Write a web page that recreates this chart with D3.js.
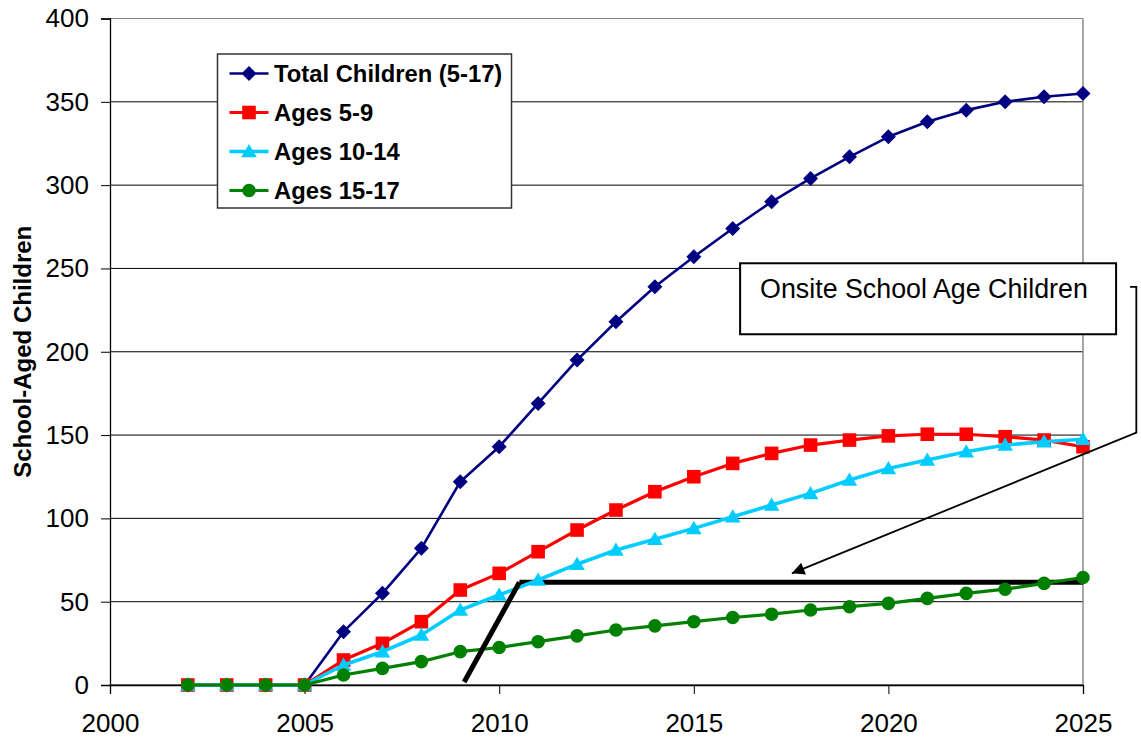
<!DOCTYPE html>
<html>
<head>
<meta charset="utf-8">
<script src="https://cdn.jsdelivr.net/npm/d3@7"></script>
<style>
  html, body { margin: 0; padding: 0; background: #fff; }
  svg { display: block; font-family: "Liberation Sans", Arial, sans-serif; }
</style>
</head>
<body>
<svg id="chart" width="1141" height="742"></svg>
<script>
// Projected school-aged children, by year
const years = [2002, 2003, 2004, 2005, 2006, 2007, 2008, 2009, 2010, 2011, 2012, 2013,
               2014, 2015, 2016, 2017, 2018, 2019, 2020, 2021, 2022, 2023, 2024, 2025];
const totalChildren = [0, 0, 0, 0, 32, 55, 82, 122, 143, 169, 195, 218,
                       239, 257, 274, 290, 304, 317, 329, 338, 345, 350, 353, 355];
const ages5to9 = [0, 0, 0, 0, 15, 25, 38, 57, 67, 80, 93, 105,
                  116, 125, 133, 139, 144, 147, 149.5, 150.5, 150.5, 149, 147, 143];
const ages10to14 = [0, 0, 0, 0, 12, 20, 30, 45, 54, 63, 72.5, 81,
                    87.5, 94, 101, 108, 115, 123, 130, 135, 140, 144, 146, 147.5];
const ages15to17 = [0, 0, 0, 0, 6, 10, 14, 20, 22.5, 26, 29.5, 33,
                    35.5, 38, 40.5, 42.5, 45, 47, 49, 52, 55, 57.5, 61, 64.5];

const seriesNames = ["Total Children (5-17)", "Ages 5-9", "Ages 10-14", "Ages 15-17"];
const seriesValues = [totalChildren, ages5to9, ages10to14, ages15to17];

const xTicks = [2000, 2005, 2010, 2015, 2020, 2025];
const yTicks = [0, 50, 100, 150, 200, 250, 300, 350, 400];

const axisTitle = "School-Aged Children";
const calloutText = "Onsite School Age Children";

// Callout shapes, in year / child-count units
const levelLine = [[2010.52, 61.7], [2025, 61.7]];
const riseLine = [[2009.1, 1.8], [2010.52, 61.7]];
const calloutBox = { x0: 2016.19, y0: 253.1, x1: 2025.85, y1: 210.5 };
const leaderLine = [[2026.21, 238.9], [2026.37, 238.9], [2026.37, 151.5], [2017.52, 67.0]];

// ---- styling per series ----
const styles = [
  { color: "#000080", width: 2.6, marker: "diamond" },
  { color: "#FF0000", width: 3.2, marker: "square" },
  { color: "#00CCFF", width: 3.6, marker: "triangle" },
  { color: "#008000", width: 3.2, marker: "circle" }
];

const svg = d3.select("#chart");
const plot = { left: 110, right: 1083, top: 18.5, bottom: 685 };

const x = d3.scaleLinear().domain([2000, 2025]).range([plot.left, plot.right]);
const y = d3.scaleLinear().domain([0, 400]).range([plot.bottom, plot.top]);

function markerPath(kind) {
  switch (kind) {
    case "diamond": return "M0,-7.5L7.5,0L0,7.5L-7.5,0Z";
    case "square": return "M-6.8,-6.8H6.8V6.8H-6.8Z";
    case "triangle": return "M0,-7.5L7.8,5.8L-7.8,5.8Z";
    default: return d3.symbol(d3.symbolCircle, Math.PI * 6.8 * 6.8)();
  }
}

// Gridlines
svg.append("g")
  .selectAll("line")
  .data(yTicks)
  .join("line")
  .attr("x1", plot.left).attr("x2", plot.right)
  .attr("y1", d => y(d)).attr("y2", d => y(d))
  .attr("stroke", d => d === 400 ? "#808080" : "#000")
  .attr("stroke-width", 1);

// Right border of plot area
svg.append("line")
  .attr("x1", plot.right).attr("x2", plot.right)
  .attr("y1", plot.top).attr("y2", plot.bottom)
  .attr("stroke", "#8a8a8a").attr("stroke-width", 1.5);

// Y axis
const yAxis = d3.axisLeft(y).tickValues(yTicks).tickSize(9).tickPadding(12);
const gy = svg.append("g").attr("transform", `translate(${plot.left},0)`).call(yAxis);
gy.select(".domain").attr("stroke", "#000").attr("stroke-width", 1.3);
gy.selectAll(".tick line").attr("stroke", "#000");
gy.selectAll(".tick text").attr("font-size", 26).attr("fill", "#000")
  .attr("font-family", "'Liberation Sans', Arial, sans-serif");

// X axis
const xAxis = d3.axisBottom(x).tickValues(xTicks).tickFormat(d3.format("d")).tickSize(9).tickPadding(20);
const gx = svg.append("g").attr("transform", `translate(0,${plot.bottom})`).call(xAxis);
gx.select(".domain").attr("stroke", "#000").attr("stroke-width", 1.3);
gx.selectAll(".tick line").attr("stroke", "#000");
gx.selectAll(".tick text").attr("font-size", 26).attr("fill", "#000")
  .attr("font-family", "'Liberation Sans', Arial, sans-serif");

// Axis title
svg.append("text")
  .attr("transform", `translate(22,${(plot.top + plot.bottom) / 2}) rotate(-90)`)
  .attr("text-anchor", "middle")
  .attr("dominant-baseline", "central")
  .attr("font-weight", "bold")
  .attr("font-size", 24)
  .text(axisTitle);

const lineGen = d3.line().x(d => x(d[0])).y(d => y(d[1]));

// Flat level line sits beneath the series
svg.append("path")
  .attr("d", lineGen(levelLine))
  .attr("fill", "none").attr("stroke", "#000").attr("stroke-width", 5);

// Series lines and markers
seriesValues.forEach((vals, i) => {
  const pts = years.map((yr, k) => [yr, vals[k]]);
  const st = styles[i];
  const g = svg.append("g");
  g.append("path")
    .attr("d", lineGen(pts))
    .attr("fill", "none")
    .attr("stroke", st.color)
    .attr("stroke-width", st.width)
    .attr("stroke-linejoin", "round");
  g.selectAll("path.mk")
    .data(pts)
    .join("path")
    .attr("class", "mk")
    .attr("d", markerPath(st.marker))
    .attr("transform", d => `translate(${x(d[0])},${y(d[1])})`)
    .attr("fill", st.color);
});

// Rising line on top
svg.append("path")
  .attr("d", lineGen(riseLine))
  .attr("fill", "none").attr("stroke", "#000").attr("stroke-width", 5);

// Leader line with arrowhead
svg.append("defs").append("marker")
  .attr("id", "arrowHead")
  .attr("viewBox", "0 0 10 10")
  .attr("refX", 10).attr("refY", 5)
  .attr("markerWidth", 9).attr("markerHeight", 7)
  .attr("markerUnits", "strokeWidth")
  .attr("orient", "auto")
  .append("path").attr("d", "M0,0L10,5L0,10Z").attr("fill", "#000");

svg.append("path")
  .attr("d", lineGen(leaderLine))
  .attr("fill", "none").attr("stroke", "#000").attr("stroke-width", 1.8)
  .attr("marker-end", "url(#arrowHead)");

// Callout box
svg.append("rect")
  .attr("x", x(calloutBox.x0)).attr("y", y(calloutBox.y0))
  .attr("width", x(calloutBox.x1) - x(calloutBox.x0))
  .attr("height", y(calloutBox.y1) - y(calloutBox.y0))
  .attr("fill", "#fff").attr("stroke", "#000").attr("stroke-width", 2);
svg.append("text")
  .attr("x", x(calloutBox.x0) + 20)
  .attr("y", y(calloutBox.y0) + 34.5)
  .attr("font-size", 26.8)
  .text(calloutText);

// Legend
const legend = svg.append("g").attr("transform", "translate(217.5,54)");
legend.append("rect")
  .attr("width", 294).attr("height", 154)
  .attr("fill", "#fff").attr("stroke", "#333").attr("stroke-width", 1.5);
const rows = legend.selectAll("g.row")
  .data(seriesNames)
  .join("g")
  .attr("class", "row")
  .attr("transform", (d, i) => `translate(0,${19.5 + i * 39})`);
rows.append("line")
  .attr("x1", 12).attr("x2", 51)
  .attr("stroke", (d, i) => styles[i].color)
  .attr("stroke-width", (d, i) => styles[i].width);
rows.append("path")
  .attr("d", (d, i) => markerPath(styles[i].marker))
  .attr("transform", "translate(31.5,0)")
  .attr("fill", (d, i) => styles[i].color);
rows.append("text")
  .attr("x", 56.5)
  .attr("dy", "0.35em")
  .attr("font-weight", "bold")
  .attr("font-size", 23.8)
  .text(d => d);
</script>
</body>
</html>
